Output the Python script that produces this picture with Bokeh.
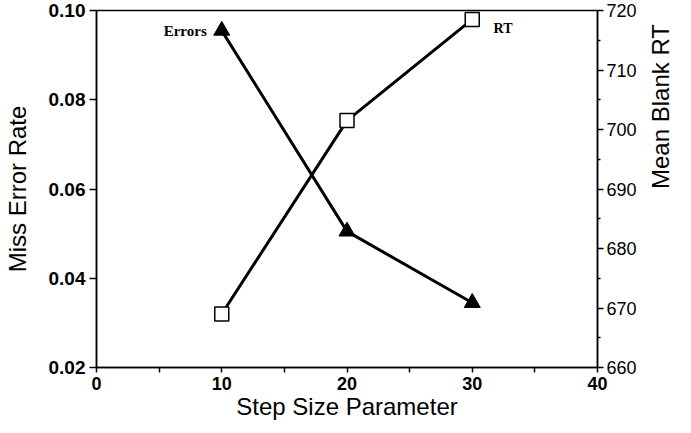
import math
from bokeh.plotting import figure
from bokeh.models import Range1d, LinearAxis, FixedTicker, PrintfTickFormatter
from bokeh.core.properties import value
from bokeh.embed import file_html
from bokeh.resources import INLINE

step = [10, 20, 30]
errors = [0.0955, 0.0505, 0.0345]
rt = [669.0, 701.5, 718.5]
x_ticks = [0, 10, 20, 30, 40]
x_minor = [5, 15, 25, 35]
left_ticks = [0.02, 0.04, 0.06, 0.08, 0.10]
right_ticks = [660, 670, 680, 690, 700, 710, 720]
right_minor = [665, 675, 685, 695, 705, 715]

W, H = 691, 433
p = figure(width=W, height=H, output_backend="svg", toolbar_location=None,
           x_range=Range1d(0, 40), y_range=Range1d(0.02, 0.10),
           min_border_left=95, min_border_right=94, min_border_top=10, min_border_bottom=66)
p.extra_y_ranges = {"rt": Range1d(660, 720)}
p.grid.visible = False
p.outline_line_color = "black"
p.outline_line_width = 1.5
p.background_fill_color = "white"
p.border_fill_color = "white"

def style(ax):
    ax.axis_label_text_font = "Liberation Sans"
    ax.axis_label_text_font_style = "normal"
    ax.axis_label_text_font_size = "24px"
    ax.axis_label_text_color = "black"
    ax.major_label_text_font = "Liberation Sans"
    ax.major_label_text_color = "black"
    ax.axis_line_color = "black"
    ax.major_tick_line_color = "black"
    ax.minor_tick_line_color = "black"
    ax.axis_line_width = 1.5
    ax.major_tick_line_width = 1.5
    ax.minor_tick_line_width = 1.5
    ax.major_tick_in = 0
    ax.minor_tick_in = 0

# bottom axis
xa = p.xaxis[0]
style(xa)
xa.ticker = FixedTicker(ticks=x_ticks, minor_ticks=x_minor)
xa.axis_label = "Step Size Parameter"
xa.axis_label_standoff = 0
xa.major_label_text_font_style = "bold"
xa.major_label_text_font_size = "18px"
xa.major_label_standoff = 4
xa.major_tick_out = 5
xa.minor_tick_out = 5

# left axis
ya = p.yaxis[0]
style(ya)
ya.ticker = FixedTicker(ticks=left_ticks, minor_ticks=[])
ya.formatter = PrintfTickFormatter(format="%.2f")
ya.axis_label = "Miss Error Rate"
ya.axis_label_standoff = 15
ya.major_label_text_font_style = "bold"
ya.major_label_text_font_size = "19px"
ya.major_label_standoff = 4
ya.major_tick_out = 7

# right axis
ra = LinearAxis(y_range_name="rt",
                ticker=FixedTicker(ticks=right_ticks, minor_ticks=right_minor),
                axis_label="Mean Blank RT")
style(ra)
ra.axis_label_orientation = math.pi / 2
ra.axis_label_text_align = "center"
ra.axis_label_text_baseline = "middle"
ra.axis_label_standoff = 21
ra.major_label_text_font_size = "18px"
ra.major_label_standoff = 3
ra.major_tick_out = 6
ra.minor_tick_out = 3
p.add_layout(ra, "right")

# Errors series
p.line(step, errors, line_color="black", line_width=3)
p.scatter(step, errors, marker="triangle", size=16, fill_color="black", line_color="black")

# RT series
p.line(step, rt, line_color="black", line_width=3, y_range_name="rt")
p.scatter(step, rt, marker="square", size=14, fill_color="white", line_color="black",
          line_width=1.5, y_range_name="rt")

p.text(x=[8.8], y=[errors[0]], text=["Errors"], text_align="right", text_baseline="middle",
       text_font=value("Liberation Serif"), text_font_style="bold", text_font_size="15px",
       text_color="black")
p.text(x=[31.7], y=[717.0], text=["RT"], text_align="left", text_baseline="middle",
       text_font=value("Liberation Serif"), text_font_style="bold", text_font_size="14px",
       text_color="black", y_range_name="rt")

open("out.html", "w").write(file_html(p, INLINE))
